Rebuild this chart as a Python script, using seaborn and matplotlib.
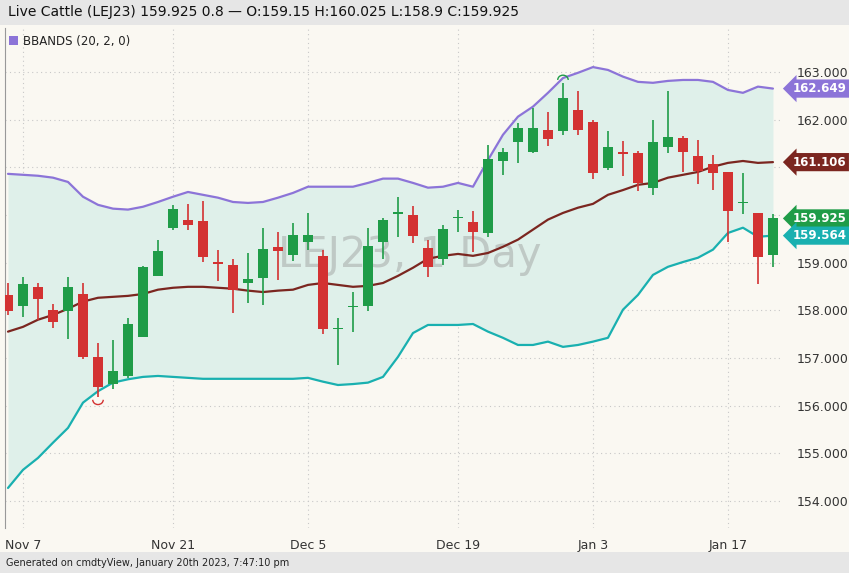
import numpy as np
import pandas as pd
import seaborn as sns
import matplotlib
matplotlib.use("Agg")
import matplotlib.pyplot as plt
from matplotlib.patches import Arc

dates = ["Nov 4","Nov 7","Nov 8","Nov 9","Nov 10","Nov 11","Nov 14","Nov 15","Nov 16","Nov 17","Nov 18",
         "Nov 21","Nov 22","Nov 23","Nov 25","Nov 28","Nov 29","Nov 30","Dec 1","Dec 2",
         "Dec 5","Dec 6","Dec 7","Dec 8","Dec 9","Dec 12","Dec 13","Dec 14","Dec 15","Dec 16",
         "Dec 19","Dec 20","Dec 21","Dec 22","Dec 23","Dec 27","Dec 28","Dec 29","Dec 30",
         "Jan 3","Jan 4","Jan 5","Jan 6","Jan 9","Jan 10","Jan 11","Jan 12","Jan 13",
         "Jan 17","Jan 18","Jan 19","Jan 20"]
opens = [158.32,158.09,158.49,158.01,157.99,158.34,157.02,156.45,156.62,157.44,158.72,
         159.73,159.90,159.87,159.01,158.95,158.57,158.68,159.33,159.16,
         159.43,159.14,157.60,158.06,158.09,159.43,160.02,160.00,159.31,159.08,
         159.93,159.85,159.62,161.13,161.53,161.32,161.78,161.76,162.20,
         161.95,160.99,161.32,161.30,160.57,161.43,161.62,161.24,161.07,
         160.90,160.24,160.04,159.15]
highs = [158.57,158.70,158.57,158.13,158.70,158.57,157.32,157.38,157.84,158.93,159.48,
         160.21,160.23,160.29,159.27,159.08,159.20,159.73,159.64,159.83,
         160.04,159.27,157.84,158.38,159.73,159.94,160.38,160.19,159.48,159.79,
         160.10,160.08,161.47,161.41,161.93,162.24,162.16,162.77,162.60,
         161.99,161.76,161.55,161.34,161.99,162.60,161.66,161.57,161.26,
         160.90,160.88,160.04,160.025]
lows = [157.90,157.86,157.80,157.63,157.40,156.98,156.18,156.35,156.58,157.44,158.72,
        159.69,159.69,159.01,158.62,157.94,158.15,158.11,158.64,159.04,
        159.27,157.50,156.85,157.55,157.99,159.08,159.54,159.41,158.70,158.95,
        159.64,159.22,159.54,160.84,161.09,161.30,161.45,161.68,161.68,
        160.76,160.94,160.82,160.50,160.42,161.30,160.90,160.65,160.52,
        159.43,160.02,158.55,158.90]
closes = [157.99,158.55,158.24,157.76,158.49,157.02,156.39,156.73,157.71,158.91,159.24,
          160.13,159.79,159.12,158.97,158.43,158.66,159.29,159.24,159.58,
          159.58,157.61,157.63,158.09,159.35,159.90,160.06,159.56,158.91,159.71,
          159.94,159.64,161.17,161.32,161.83,161.83,161.59,162.45,161.78,
          160.88,161.43,161.28,160.67,161.53,161.64,161.32,160.92,160.88,
          160.08,160.25,159.12,159.925]
upper = [160.86,160.84,160.82,160.78,160.69,160.38,160.21,160.13,160.11,160.17,160.27,
         160.38,160.48,160.42,160.36,160.27,160.25,160.27,160.36,160.46,
         160.59,160.59,160.59,160.59,160.67,160.76,160.76,160.67,160.57,160.59,
         160.67,160.59,161.15,161.68,162.06,162.27,162.56,162.87,162.98,
         163.10,163.04,162.90,162.79,162.77,162.81,162.83,162.83,162.79,
         162.62,162.56,162.69,162.649]
middle = [157.55,157.65,157.80,157.90,158.03,158.18,158.26,158.28,158.30,158.34,158.43,
          158.47,158.49,158.49,158.47,158.45,158.41,158.38,158.41,158.43,
          158.53,158.57,158.53,158.49,158.51,158.57,158.72,158.89,159.08,159.14,
          159.18,159.14,159.20,159.33,159.48,159.69,159.90,160.04,160.15,
          160.23,160.42,160.52,160.63,160.67,160.78,160.84,160.90,161.01,
          161.09,161.13,161.09,161.106]
lower = [154.27,154.65,154.90,155.22,155.53,156.06,156.30,156.48,156.55,156.60,156.62,
         156.60,156.58,156.56,156.56,156.56,156.56,156.56,156.56,156.56,
         156.58,156.50,156.43,156.45,156.48,156.60,157.02,157.52,157.69,157.69,
         157.69,157.71,157.55,157.42,157.27,157.27,157.34,157.23,157.27,
         157.34,157.42,158.01,158.32,158.74,158.91,159.01,159.10,159.27,
         159.62,159.73,159.54,159.564]
tick_labels = ["Nov 7","Nov 21","Dec 5","Dec 19","Jan 3","Jan 17"]
y_ticks = [154,155,156,157,158,159,160,161,162,163]
hidden_y = [160, 161]  # covered by price badges in the reference

GREEN = "#1f9c48"; RED = "#d33232"
C_UP = "#8c74d8"; C_MID = "#7b2620"; C_LOW = "#19b0b0"
BG = "#faf8f2"

df = pd.DataFrame(dict(i=np.arange(len(dates)), date=dates, o=opens, h=highs, l=lows, c=closes,
                       up=upper, mid=middle, lo=lower))

sns.set_style("white")
fig = plt.figure(figsize=(8.49, 5.73), dpi=100)
fig.patch.set_facecolor("#e6e6e6")
W, H = 849, 573
ax = fig.add_axes([5/W, 1-528/H, 778/W, 500/H])
ax.set_facecolor(BG)
fig.patches.append(plt.Rectangle((0, 1-552/H), 1, (552-25)/H, transform=fig.transFigure,
                                 facecolor=BG, edgecolor="none", zorder=-10))

ax.set_xlim(-0.2, 51.67)
ax.set_ylim(153.43, 163.92)

ax.fill_between(df.i, df.lo, df.up, color="#dff0ea", zorder=1, lw=0)
sns.lineplot(data=df, x="i", y="up", color=C_UP, lw=1.6, ax=ax, zorder=3)
sns.lineplot(data=df, x="i", y="mid", color=C_MID, lw=1.6, ax=ax, zorder=3)
sns.lineplot(data=df, x="i", y="lo", color=C_LOW, lw=1.6, ax=ax, zorder=3)

for r in df.itertuples():
    col = GREEN if r.c >= r.o else RED
    ax.vlines(r.i, r.l, r.h, color=col, lw=1.2, zorder=4)
    bot = min(r.o, r.c); hgt = max(abs(r.c - r.o), 0.03)
    ax.bar(r.i, hgt, bottom=bot, width=0.7, color=col, zorder=5, lw=0)

imin = int(np.argmin(lows)); imax = int(np.argmax(highs))
ax.add_patch(Arc((imin, lows[imin] - 0.06), 0.7, 0.2, theta1=180, theta2=360, color=RED, lw=1, zorder=6))
ax.add_patch(Arc((imax, highs[imax] + 0.06), 0.7, 0.2, theta1=0, theta2=180, color=GREEN, lw=1, zorder=6))

ax.text(0.52, 0.545, "LEJ23, 1 Day", transform=ax.transAxes, fontsize=30, color="#9a9a9a",
        alpha=0.45, ha="center", va="center", zorder=2)

tick_pos = [dates.index(t) for t in tick_labels]
ax.set_xticks(tick_pos)
ax.set_xticklabels(tick_labels, fontsize=9, color="#333333")
ax.set_yticks(y_ticks)
ax.yaxis.tick_right()
ax.set_yticklabels(["" if v in hidden_y else f"{v:.3f}" for v in y_ticks], fontsize=9, color="#333333")
ax.tick_params(axis="y", length=0, pad=10)
ax.tick_params(axis="x", length=0, pad=8)
ax.grid(True, color="#c8c8c8", ls=(0, (1, 3)), lw=0.8)
for s in ["top", "right", "bottom"]:
    ax.spines[s].set_visible(False)
ax.spines["left"].set_color("#999999")
ax.set_xlabel(""); ax.set_ylabel("")

badges = [(162.649, C_UP), (161.106, C_MID), (159.925, GREEN), (159.564, C_LOW)]
for v, col in badges:
    t = ax.annotate(f"{v:.3f}", xy=(1.0, v), xycoords=("axes fraction", "data"),
                    xytext=(7, 0), textcoords="offset points", fontsize=8.5, fontweight="bold",
                    color="white", va="center", ha="left", zorder=20,
                    bbox=dict(boxstyle="larrow,pad=0.22", fc=col, ec="none"), annotation_clip=False)

fig.text(8/W, 1-12/H, "Live Cattle (LEJ23) 159.925 0.8 \u2014 O:159.15 H:160.025 L:158.9 C:159.925",
         fontsize=10, va="center", color="#111111")
fig.patches.append(plt.Rectangle((9/W, 1-45/H), 9/W, 9/H, transform=fig.transFigure,
                                 facecolor=C_UP, edgecolor="none"))
fig.text(23/W, 1-41/H, "BBANDS (20, 2, 0)", fontsize=8.5, va="center", color="#222222")
fig.text(6/W, 1-563/H, "Generated on cmdtyView, January 20th 2023, 7:47:10 pm", fontsize=7,
         va="center", color="#222222")

fig.savefig("out.png", dpi=100, facecolor=fig.get_facecolor())
